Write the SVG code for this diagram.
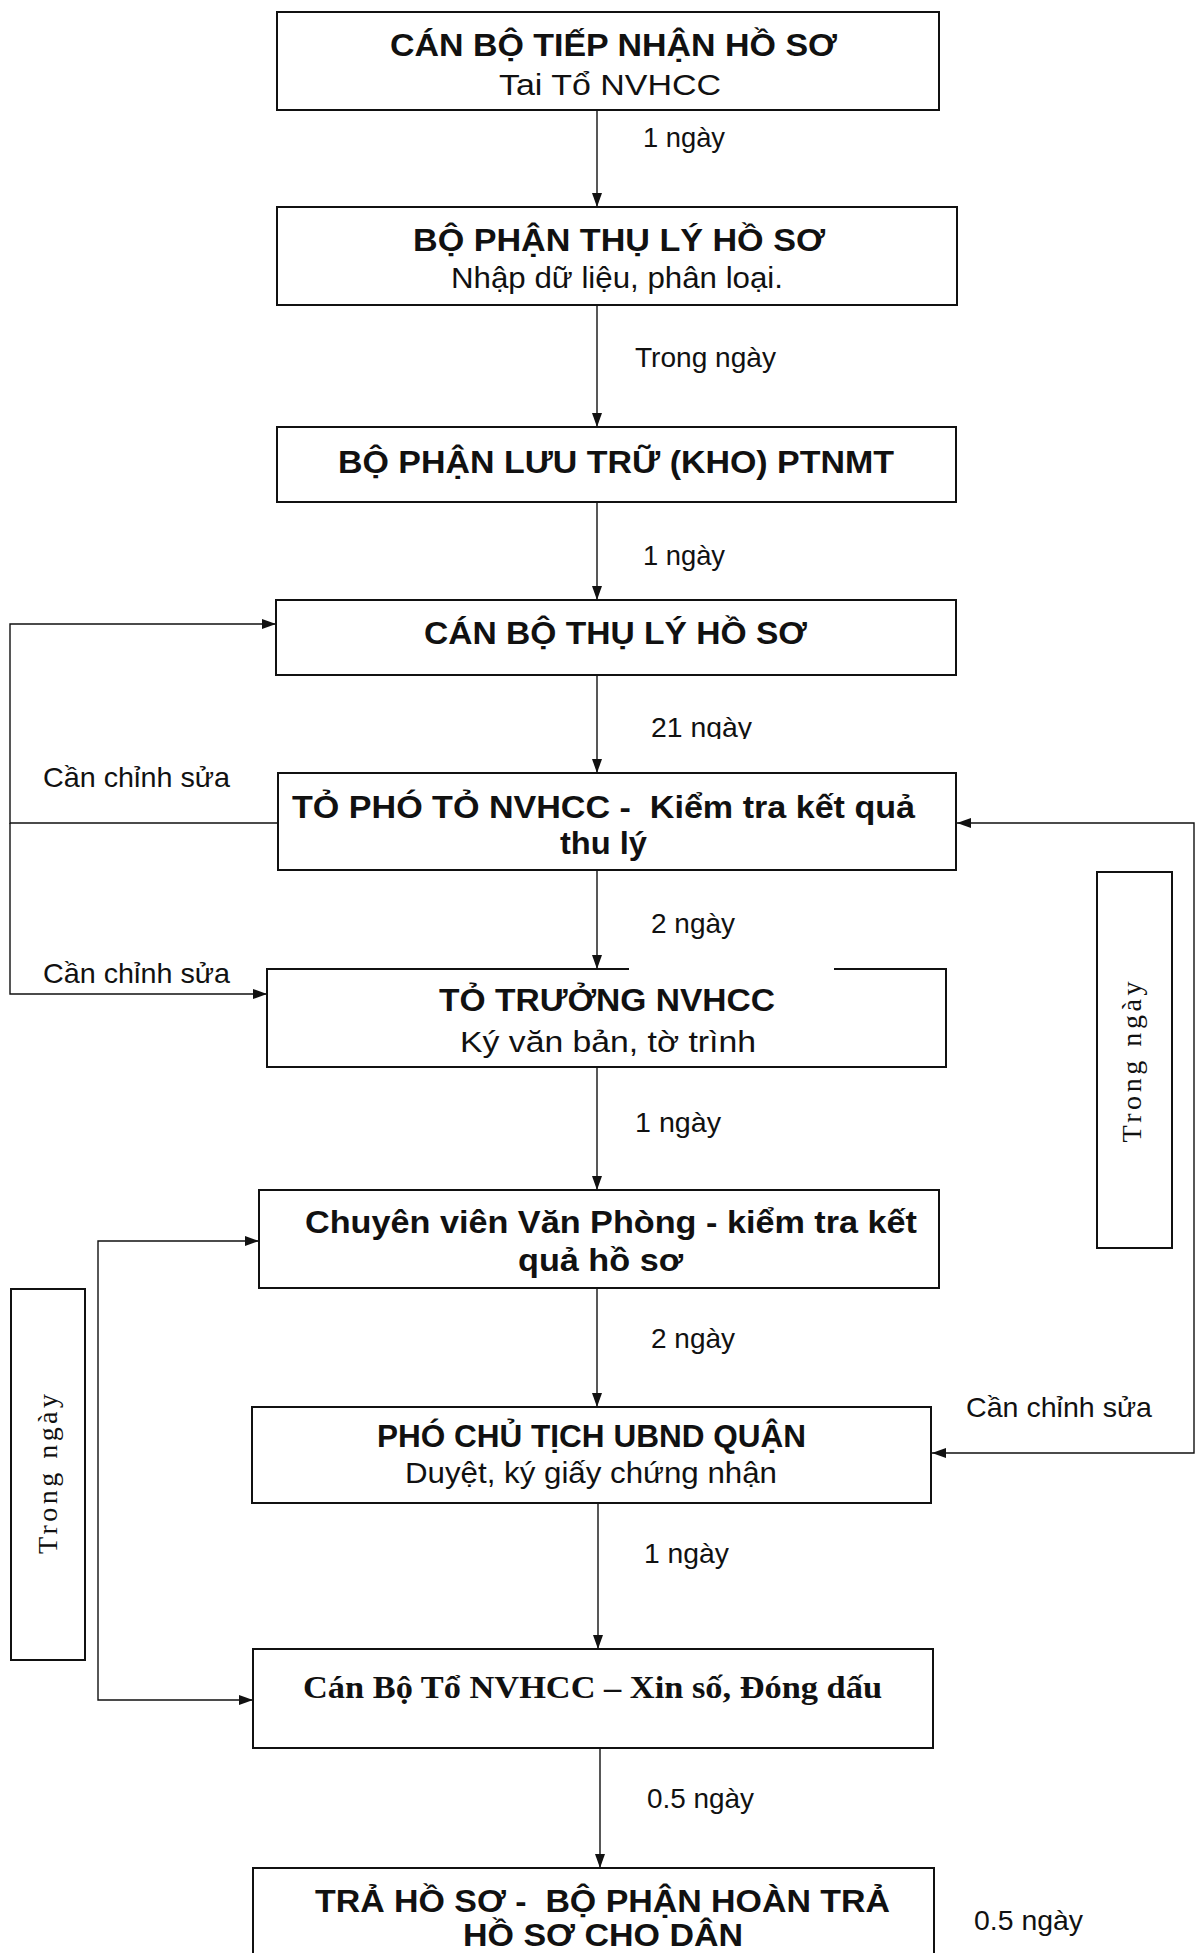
<svg xmlns="http://www.w3.org/2000/svg" width="1203" height="1953" viewBox="0 0 1203 1953">
<style>
.box{fill:#fff;stroke:#111;stroke-width:2}
.ln{fill:none;stroke:#111;stroke-width:1.4}
.b{font-family:"Liberation Sans",Arial,sans-serif;font-weight:bold;font-size:31px;fill:#111;white-space:pre}
.r{font-family:"Liberation Sans",Arial,sans-serif;font-size:30px;fill:#111}
.lbl{font-family:"Liberation Sans",Arial,sans-serif;font-size:28px;fill:#111}
.sv{font-family:"Liberation Serif","Times New Roman",serif;font-size:28px;fill:#111}
.sb{font-family:"Liberation Serif","Times New Roman",serif;font-weight:bold;font-size:31px;fill:#111}
</style>
<defs>
<marker id="ah" markerWidth="14" markerHeight="10" refX="14" refY="5" orient="auto-start-reverse" markerUnits="userSpaceOnUse"><path d="M0,0 L14,5 L0,10 Z" fill="#111"/></marker>
<clipPath id="cut21"><rect x="630" y="700" width="150" height="39"/></clipPath>
</defs>
<rect width="1203" height="1953" fill="#fff"/>

<g id="connectors">
<line class="ln" x1="597" y1="110" x2="597" y2="207" marker-end="url(#ah)"/>
<line class="ln" x1="597" y1="305" x2="597" y2="427" marker-end="url(#ah)"/>
<line class="ln" x1="597" y1="502" x2="597" y2="600" marker-end="url(#ah)"/>
<line class="ln" x1="597" y1="675" x2="597" y2="773" marker-end="url(#ah)"/>
<line class="ln" x1="597" y1="870" x2="597" y2="969" marker-end="url(#ah)"/>
<line class="ln" x1="597" y1="1067" x2="597" y2="1190" marker-end="url(#ah)"/>
<line class="ln" x1="597" y1="1288" x2="597" y2="1407" marker-end="url(#ah)"/>
<line class="ln" x1="598" y1="1503" x2="598" y2="1649" marker-end="url(#ah)"/>
<line class="ln" x1="600" y1="1748" x2="600" y2="1868" marker-end="url(#ah)"/>
<path class="ln" d="M278,823 H10 V624 H276" marker-end="url(#ah)"/>
<path class="ln" d="M10,823 V994 H267" marker-end="url(#ah)"/>
<path class="ln" d="M957,823 H1194 V1453 H932" marker-start="url(#ah)" marker-end="url(#ah)"/>
<path class="ln" d="M259,1241 H98 V1700 H253" marker-start="url(#ah)" marker-end="url(#ah)"/>
<text class="lbl" x="643" y="147" textLength="82" lengthAdjust="spacingAndGlyphs">1 ngày</text>
<text class="lbl" x="635" y="367" textLength="141" lengthAdjust="spacingAndGlyphs">Trong ngày</text>
<text class="lbl" x="643" y="565" textLength="82" lengthAdjust="spacingAndGlyphs">1 ngày</text>
<text class="lbl" x="651" y="737" textLength="101" lengthAdjust="spacingAndGlyphs" clip-path="url(#cut21)">21 ngày</text>
<text class="lbl" x="43" y="787" textLength="187" lengthAdjust="spacingAndGlyphs">Cần chỉnh sửa</text>
<text class="lbl" x="651" y="933" textLength="84" lengthAdjust="spacingAndGlyphs">2 ngày</text>
<text class="lbl" x="43" y="983" textLength="187" lengthAdjust="spacingAndGlyphs">Cần chỉnh sửa</text>
<text class="lbl" x="635" y="1132" textLength="86" lengthAdjust="spacingAndGlyphs">1 ngày</text>
<text class="lbl" x="651" y="1348" textLength="84" lengthAdjust="spacingAndGlyphs">2 ngày</text>
<text class="lbl" x="966" y="1417" textLength="186" lengthAdjust="spacingAndGlyphs">Cần chỉnh sửa</text>
<text class="lbl" x="644" y="1563" textLength="85" lengthAdjust="spacingAndGlyphs">1 ngày</text>
<text class="lbl" x="647" y="1808" textLength="107" lengthAdjust="spacingAndGlyphs">0.5 ngày</text>
<text class="lbl" x="974" y="1930" textLength="109" lengthAdjust="spacingAndGlyphs">0.5 ngày</text>
</g>

<g id="side-right">
<rect class="box" x="1097" y="872" width="75" height="376"/>
<text class="sv" transform="translate(1141,1062) rotate(-90)" text-anchor="middle" textLength="161" lengthAdjust="spacing">Trong ngày</text>
</g>
<g id="side-left">
<rect class="box" x="11" y="1289" width="74" height="371"/>
<text class="sv" transform="translate(57,1474) rotate(-90)" text-anchor="middle" textLength="160" lengthAdjust="spacing">Trong ngày</text>
</g>

<g id="n1">
<rect class="box" x="277" y="12" width="662" height="98"/>
<text class="b" x="390" y="56" textLength="447" lengthAdjust="spacingAndGlyphs">CÁN BỘ TIẾP NHẬN HỒ SƠ</text>
<text class="r" x="499" y="95" textLength="222" lengthAdjust="spacingAndGlyphs">Tai Tổ NVHCC</text>
</g>
<g id="n2">
<rect class="box" x="277" y="207" width="680" height="98"/>
<text class="b" x="413" y="251" textLength="412" lengthAdjust="spacingAndGlyphs">BỘ PHẬN THỤ LÝ HỒ SƠ</text>
<text class="r" x="451" y="288" textLength="332" lengthAdjust="spacingAndGlyphs">Nhập dữ liệu, phân loại.</text>
</g>
<g id="n3">
<rect class="box" x="277" y="427" width="679" height="75"/>
<text class="b" x="338" y="473" textLength="556" lengthAdjust="spacingAndGlyphs">BỘ PHẬN LƯU TRỮ (KHO) PTNMT</text>
</g>
<g id="n4">
<rect class="box" x="276" y="600" width="680" height="75"/>
<text class="b" x="424" y="644" textLength="383" lengthAdjust="spacingAndGlyphs">CÁN BỘ THỤ LÝ HỒ SƠ</text>
</g>
<g id="n5">
<rect class="box" x="278" y="773" width="678" height="97"/>
<text class="b" x="292" y="818" textLength="623" lengthAdjust="spacingAndGlyphs">TỎ PHÓ TỎ NVHCC -  Kiểm tra kết quả</text>
<text class="b" x="560" y="854" textLength="87" lengthAdjust="spacingAndGlyphs">thu lý</text>
</g>
<g id="n6">
<rect x="267" y="969" width="679" height="98" fill="#fff"/>
<path class="box" fill="none" d="M629,969 H267 V1067 H946 V969 H834"/>
<text class="b" x="439" y="1011" textLength="336" lengthAdjust="spacingAndGlyphs">TỎ TRƯỞNG NVHCC</text>
<text class="r" x="460" y="1052" textLength="296" lengthAdjust="spacingAndGlyphs">Ký văn bản, tờ trình</text>
</g>
<g id="n7">
<rect class="box" x="259" y="1190" width="680" height="98"/>
<text class="b" x="305" y="1233" textLength="612" lengthAdjust="spacingAndGlyphs">Chuyên viên Văn Phòng - kiểm tra kết</text>
<text class="b" x="518" y="1271" textLength="165" lengthAdjust="spacingAndGlyphs">quả hồ sơ</text>
</g>
<g id="n8">
<rect class="box" x="252" y="1407" width="679" height="96"/>
<text class="b" x="377" y="1447" textLength="429" lengthAdjust="spacingAndGlyphs">PHÓ CHỦ TỊCH UBND QUẬN</text>
<text class="r" x="405" y="1483" textLength="372" lengthAdjust="spacingAndGlyphs">Duyệt, ký giấy chứng nhận</text>
</g>
<g id="n9">
<rect class="box" x="253" y="1649" width="680" height="99"/>
<text class="sb" x="303" y="1698" textLength="579" lengthAdjust="spacingAndGlyphs">Cán Bộ Tổ NVHCC – Xin số, Đóng dấu</text>
</g>
<g id="n10">
<rect class="box" x="253" y="1868" width="681" height="100"/>
<text class="b" x="315" y="1912" textLength="575" lengthAdjust="spacingAndGlyphs">TRẢ HỒ SƠ -  BỘ PHẬN HOÀN TRẢ</text>
<text class="b" x="463" y="1946" textLength="280" lengthAdjust="spacingAndGlyphs">HỒ SƠ CHO DÂN</text>
</g>
</svg>
